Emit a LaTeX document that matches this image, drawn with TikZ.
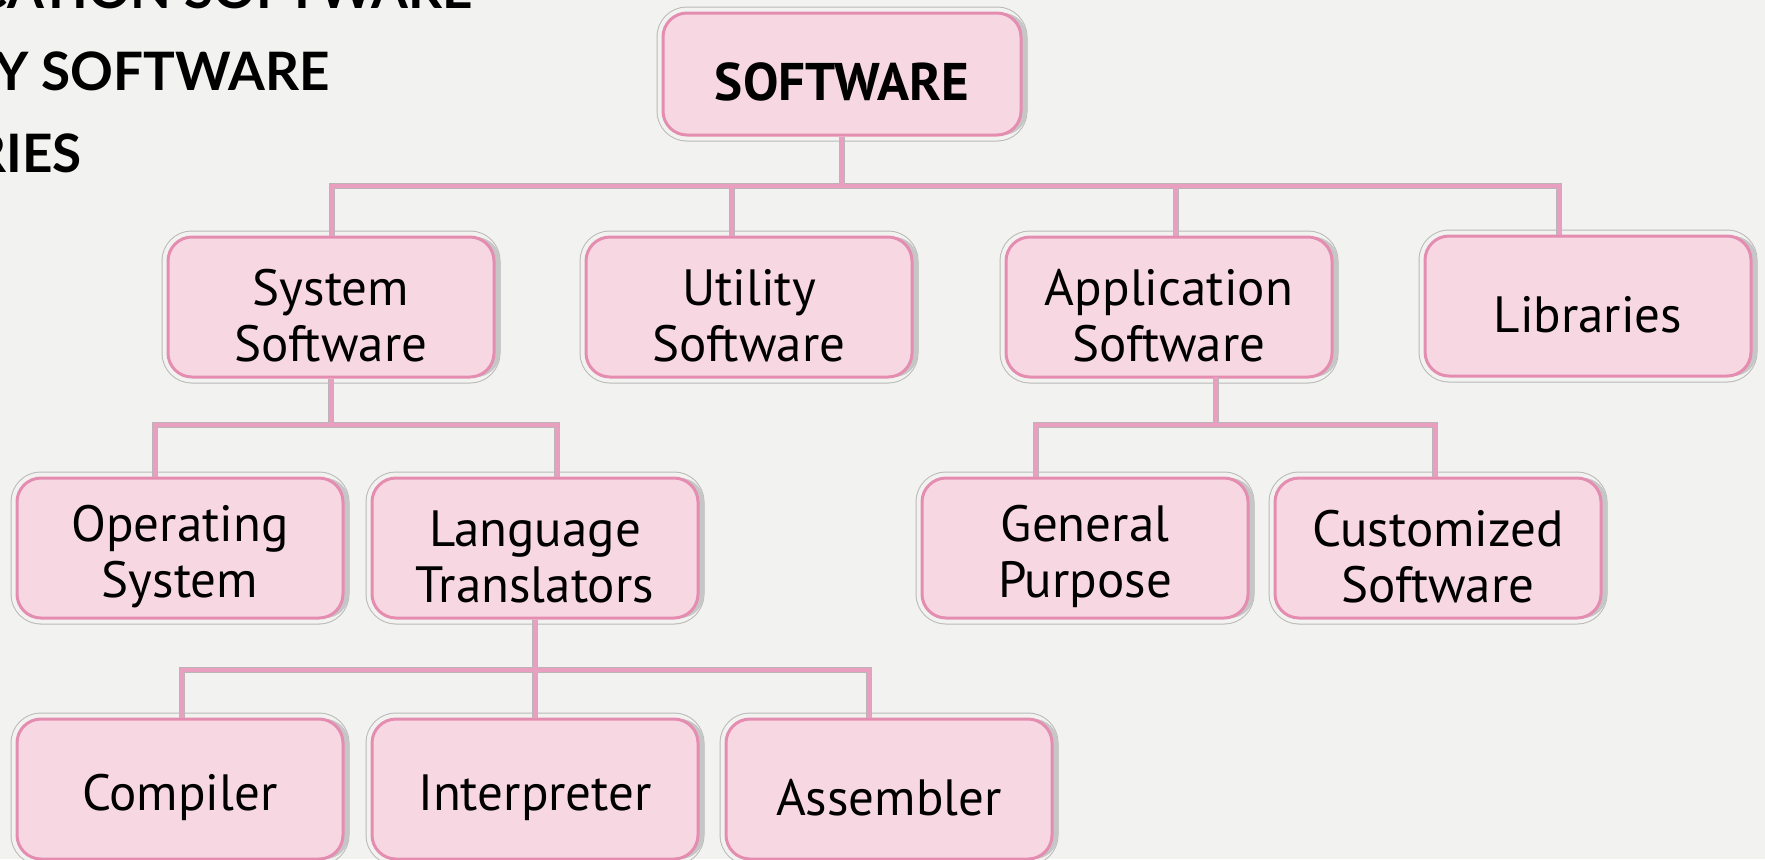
\documentclass[tikz,border=0pt]{standalone}
\usepackage{fontspec}
\usetikzlibrary{shadows}
\newfontfamily\boxfont{PT Sans}
\newfontfamily\headfont{Lato}

\definecolor{bg}{RGB}{242,242,240}
\definecolor{boxfill}{RGB}{247,215,226}
\definecolor{boxline}{RGB}{229,141,177}
\definecolor{linkpink}{RGB}{233,160,192}
\definecolor{linkedge}{RGB}{190,180,184}

% taller first line, so the label sits a little low in its box
\newcommand\lowstrut{\rule{0pt}{27pt}}

\tikzset{
  box/.style={rectangle, rounded corners=12pt, fill=boxfill, draw=boxline,
    line width=1.5pt, minimum width=163pt, minimum height=70pt, inner sep=0pt,
    align=center, text=black, font=\boxfont\fontsize{25.5}{28}\selectfont,
    preaction={draw=gray!55, line width=6.5pt},
    preaction={draw=bg, line width=5.5pt},
    general shadow={fill=gray!45, draw=none, shadow xshift=3pt}},
  topbox/.style={box, minimum width=179pt, minimum height=61pt,
    font=\boxfont\bfseries\fontsize{26.5}{30}\selectfont},
  linkedgestyle/.style={draw=linkedge, line width=2.8pt},
  linkcorestyle/.style={draw=linkpink, line width=1.6pt},
  heading/.style={anchor=base east, inner sep=0pt, text=black,
    font=\headfont\bfseries\fontsize{26.5}{30}\selectfont}
}

% connector paths, drawn once for the grey edge and once for the pink core
\newcommand\treelinks[1]{%
  \draw[#1] (sw.south) -- (sw.south |- busA);
  \draw[#1] (dSys |- sys.north) -- (dSys) -- (dLib) -- (dLib |- lib.north);
  \draw[#1] (dUtil) -- (dUtil |- util.north);
  \draw[#1] (dApp) -- (dApp |- app.north);
  \draw[#1] (sys.south) -- (sys.south |- dOs);
  \draw[#1] (dOs |- os.north) -- (dOs) -- (dLt) -- (dLt |- lt.north);
  \draw[#1] (dAppUp) -- (dAppUp |- dGp);
  \draw[#1] (dGp |- gp.north) -- (dGp) -- (dCs) -- (dCs |- cs.north);
  \draw[#1] (lt.south) -- (lt.south |- dComp);
  \draw[#1] (dComp |- comp.north) -- (dComp) -- (dAsm) -- (dAsm |- asm.north);
  \draw[#1] (lt.south |- dComp) -- (lt.south |- interp.north);
}

\begin{document}
\begin{tikzpicture}[x=0.5pt, y=-0.5pt]
  \useasboundingbox (0,0) rectangle (1765,859);
  \clip (0,0) rectangle (1765,859);
  \fill[bg] (0,0) rectangle (1765,859);

  % slide headings cut off at the edge
  \node[heading] (h1) at (473,8) {APPLICATION SOFTWARE};
  \node[heading] (h2) at (330,90) {UTILITY SOFTWARE};
  \node[heading] (h3) at (82,172) {LIBRARIES};

  % bus and drop positions
  \coordinate (busA) at (842,186);
  \coordinate (dSys) at (332,186);
  \coordinate (dUtil) at (732,186);
  \coordinate (dApp) at (1176,186);
  \coordinate (dLib) at (1559,186);
  \coordinate (dOs) at (155,425);
  \coordinate (dLt) at (557,425);
  \coordinate (dAppUp) at (1216,377);
  \coordinate (dGp) at (1036,425);
  \coordinate (dCs) at (1435,425);
  \coordinate (dComp) at (182,670);
  \coordinate (dAsm) at (869,670);

  % boxes
  \node[topbox] (sw) at (842,74) {\lowstrut SOFTWARE};
  \node[box] (sys) at (331,307) {\lowstrut System\\Software};
  \node[box] (util) at (749,307) {\lowstrut Utility\\Software};
  \node[box] (app) at (1169,307) {\lowstrut Application\\Software};
  \node[box] (lib) at (1588,306) {\lowstrut Libraries};
  \node[box] (os) at (180,548) {\lowstrut Operating\\System};
  \node[box] (lt) at (535,548) {\lowstrut Language\\Translators};
  \node[box] (gp) at (1085,548) {\lowstrut General\\Purpose};
  \node[box] (cs) at (1438,548) {\lowstrut Customized\\Software};
  \node[box] (comp) at (180,789) {\lowstrut Compiler};
  \node[box] (interp) at (535,789) {\lowstrut Interpreter};
  \node[box] (asm) at (889,789) {\lowstrut Assembler};

  % connectors
  \treelinks{linkedgestyle}
  \treelinks{linkcorestyle}
\end{tikzpicture}
\end{document}
